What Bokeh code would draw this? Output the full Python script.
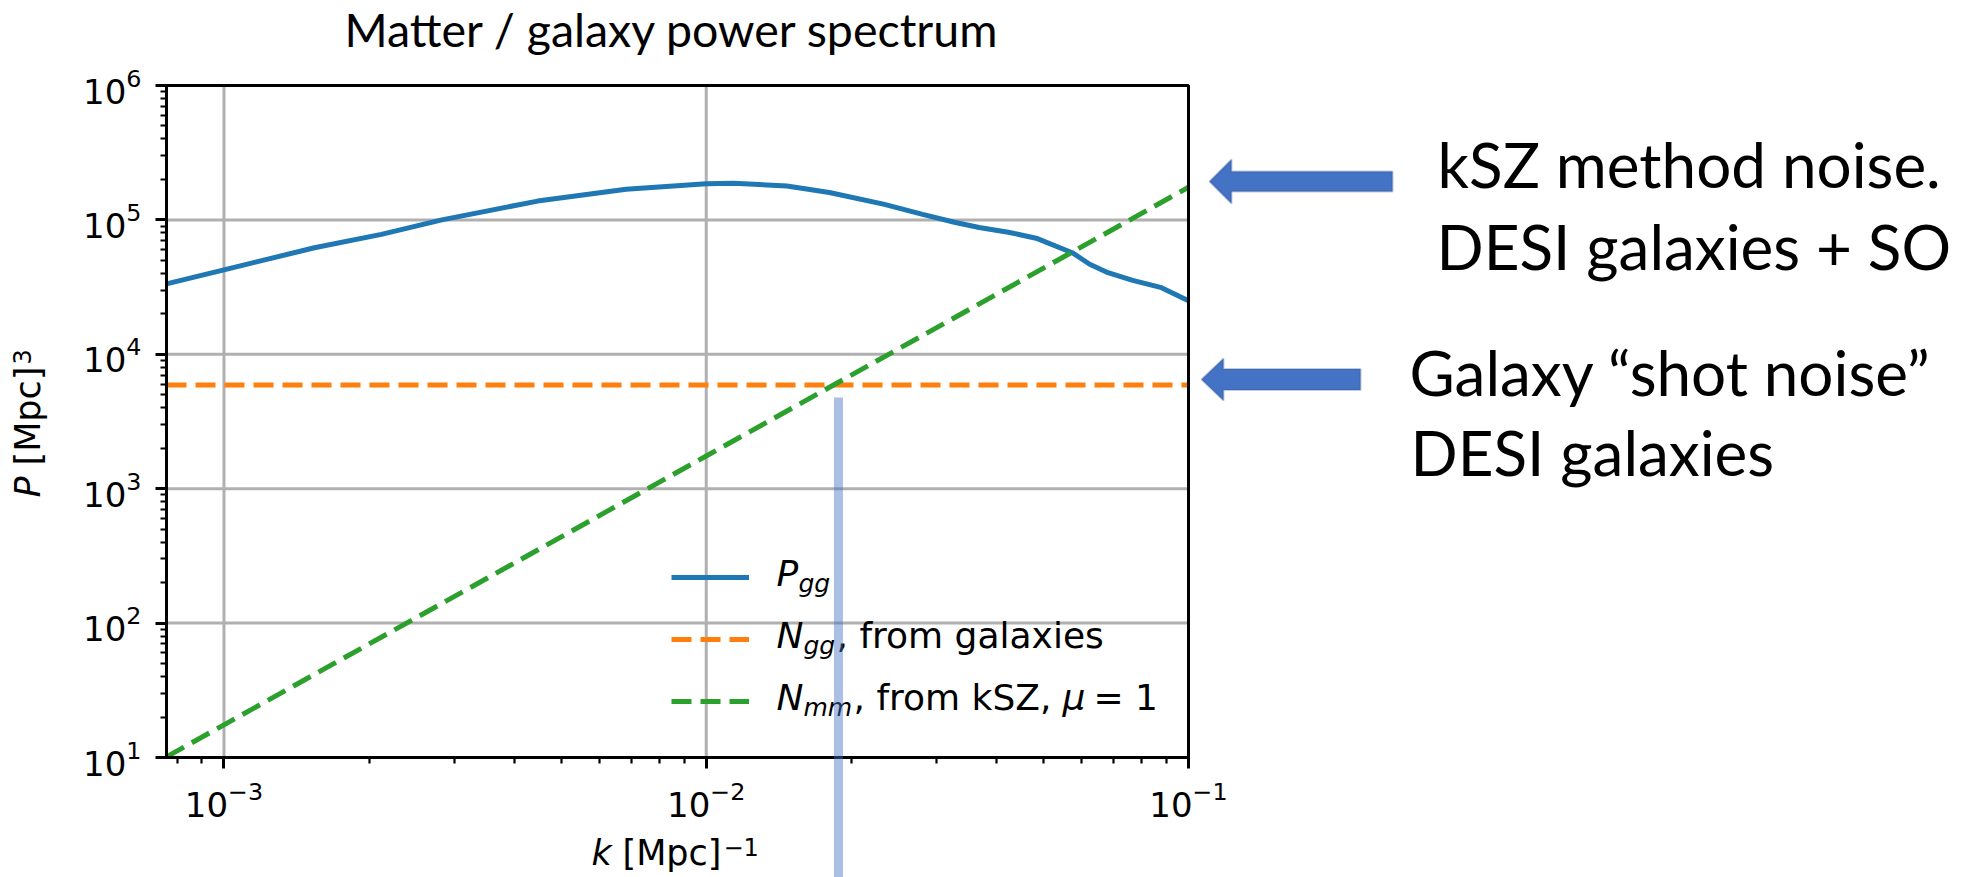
import math
from bokeh.plotting import figure
from bokeh.models import (Range1d, LogTicker, Label, PolyAnnotation, BoxAnnotation, Legend, LegendItem)
from bokeh.embed import file_html
from bokeh.resources import INLINE

# ---- data ----
k_gg = [7.6e-4, 1.0e-3, 1.54e-3, 2.12e-3, 2.83e-3, 4.47e-3, 6.82e-3, 1.0e-2, 1.14e-2, 1.47e-2,
        1.8e-2, 2.33e-2, 2.81e-2, 3.27e-2, 3.68e-2, 4.23e-2, 4.83e-2, 5.74e-2, 6.24e-2,
        6.81e-2, 7.66e-2, 8.79e-2, 1.0e-1]
P_gg = [3.34e4, 4.25e4, 6.2e4, 7.8e4, 1.0e5, 1.38e5, 1.69e5, 1.86e5, 1.87e5, 1.79e5,
        1.6e5, 1.31e5, 1.1e5, 9.6e4, 8.77e4, 8.1e4, 7.31e4, 5.7e4, 4.68e4,
        4.05e4, 3.55e4, 3.13e4, 2.5e4]
k_ngg = [7.6e-4, 1.0e-1]
N_gg = [5900, 5900]
k_nmm = [7.6e-4, 1.0e-3, 1.0e-2, 1.0e-1]
N_mm = [10.1, 17.5, 1750, 175000]
k_mark = 0.0188

X_RANGE = (7.6e-4, 0.1)
Y_RANGE = (10, 1e6)
x_ticks = [1e-3, 1e-2, 1e-1]
y_ticks = [1e1, 1e2, 1e3, 1e4, 1e5, 1e6]

# ---- layout: the frame covers the whole canvas; the plot box sits inside it ----
W, H = 1965, 877
PAGE = 0
BOX_L, BOX_T, BOX_R, BOX_B = 166, 85, 1188, 757   # reference pixels
BASE = 0.43   # text anchor correction (fraction of font size)

lx0, lx1 = math.log10(X_RANGE[0]), math.log10(X_RANGE[1])
ly0, ly1 = math.log10(Y_RANGE[0]), math.log10(Y_RANGE[1])
dec_x = (BOX_R - BOX_L) / (lx1 - lx0)
dec_y = (BOX_B - BOX_T) / (ly1 - ly0)
x_full = (10 ** (lx0 - (BOX_L - PAGE) / dec_x), 10 ** (lx1 + (PAGE + W - BOX_R) / dec_x))
y_full = (10 ** (ly0 - (PAGE + H - BOX_B) / dec_y), 10 ** (ly1 + (BOX_T - PAGE) / dec_y))

p = figure(x_axis_type="log", y_axis_type="log",
           x_range=Range1d(*x_full), y_range=Range1d(*y_full),
           width=W, height=H, min_border=0,
           output_backend="svg", toolbar_location=None,
           background_fill_color="white", border_fill_color="white")
p.outline_line_color = None
p.grid.visible = False

p.xaxis[0].fixed_location = Y_RANGE[0]
p.xaxis[0].bounds = X_RANGE
p.yaxis[0].fixed_location = X_RANGE[0]
p.yaxis[0].bounds = Y_RANGE

for ax in (p.xaxis[0], p.yaxis[0]):
    ax.ticker = LogTicker(num_minor_ticks=10)
    ax.axis_line_color = "black"
    ax.axis_line_width = 3
    ax.major_tick_line_color = "black"
    ax.minor_tick_line_color = "black"
    ax.major_tick_line_width = 3
    ax.minor_tick_line_width = 2.2
    ax.major_tick_out = 11
    ax.major_tick_in = 0
    ax.minor_tick_out = 6
    ax.minor_tick_in = 0
    ax.major_label_text_font = "DejaVu Sans"
    ax.major_label_text_font_size = "34px"
    ax.major_label_text_color = "black"
p.xaxis.major_label_standoff = 12
p.yaxis.major_label_standoff = 14

# grid lines at the major ticks, inside the plot box
p.segment(x0=x_ticks, y0=[Y_RANGE[0]] * len(x_ticks), x1=x_ticks, y1=[Y_RANGE[1]] * len(x_ticks),
          line_color="#b0b0b0", line_width=3)
p.segment(x0=[X_RANGE[0]] * len(y_ticks), y0=y_ticks, x1=[X_RANGE[1]] * len(y_ticks), y1=y_ticks,
          line_color="#b0b0b0", line_width=3)

r_pgg = p.line(k_gg, P_gg, line_color="#1f77b4", line_width=5)
r_ngg = p.line(k_ngg, N_gg, line_color="#ff7f0e", line_width=5, line_dash="20 9")
r_nmm = p.line(k_nmm, N_mm, line_color="#2ca02c", line_width=5, line_dash="20 9")

# plot box outline (spines)
p.add_layout(BoxAnnotation(left=X_RANGE[0], right=X_RANGE[1], bottom=Y_RANGE[0], top=Y_RANGE[1],
                           fill_alpha=0, line_color="black", line_width=3, line_alpha=1))


def sx(x):
    return x - PAGE


def sy(y):
    return PAGE + H - y


legend = Legend(items=[LegendItem(label=" ", renderers=[r_pgg]),
                       LegendItem(label=" ", renderers=[r_ngg]),
                       LegendItem(label=" ", renderers=[r_nmm])],
                location=(sx(671), sy(701 + 31)), orientation="vertical",
                glyph_width=78, glyph_height=62, label_height=62, label_width=1,
                spacing=0, padding=0, margin=0, label_standoff=0,
                border_line_alpha=0, background_fill_alpha=0,
                label_text_font_size="1px")
p.add_layout(legend, "center")


def lab(text, x, y, size=36, font="DejaVu Sans", style="normal", align="left", rotated=False):
    # (x, y): start of the text on its baseline, in reference pixels
    if rotated:
        ax_, ay_ = x - BASE * size, y
    else:
        ax_, ay_ = x, y - BASE * size
    p.add_layout(Label(x=sx(ax_), y=sy(ay_), x_units="screen", y_units="screen",
                       text=text, text_font=font, text_font_size=f"{size}px",
                       text_font_style=style, text_align=align, text_baseline="alphabetic",
                       angle=math.pi / 2 if rotated else 0.0, text_color="black"))


# legend texts
lab("P", 776, 588, style="italic")
lab("gg", 798, 594, size=25, style="italic")
lab("N", 776, 650, style="italic")
lab("gg", 803, 656, size=25, style="italic")
lab(", from galaxies", 836, 650)
lab("N", 776, 712, style="italic")
lab("mm", 803, 718, size=25, style="italic")
lab(", from kSZ,", 853, 712)
lab("\u03bc", 1062, 712, style="italic")
lab("= 1", 1093, 712)

# axis labels
lab("k", 591, 868, size=35, style="italic")
lab("[Mpc]", 622, 868, size=35)
lab("\u22121", 723, 857, size=24)
lab("P", 43, 497, size=35, style="italic", rotated=True)
lab("[Mpc]", 43, 465, size=35, rotated=True)
lab("3", 32, 364, size=24, rotated=True)

# title and side notes
lab("Matter / galaxy power spectrum", 672, 48, size=46.5, font="Lato", align="center")
lab("kSZ method noise.", 1437, 190, size=62, font="Lato")
lab("DESI galaxies + SO", 1436, 272, size=62, font="Lato")
lab("Galaxy \u201cshot noise\u201d", 1409, 398, size=62, font="Lato")
lab("DESI galaxies", 1410, 478, size=62, font="Lato")


def arrow(tip_x, tip_y, head_x, head_half, shaft_half, tail_x):
    xs = [tip_x, head_x, head_x, tail_x, tail_x, head_x, head_x]
    ys = [tip_y, tip_y - head_half, tip_y - shaft_half, tip_y - shaft_half,
          tip_y + shaft_half, tip_y + shaft_half, tip_y + head_half]
    p.add_layout(PolyAnnotation(xs=[sx(x) for x in xs], ys=[sy(y) for y in ys],
                                xs_units="screen", ys_units="screen",
                                fill_color="#4472C4", fill_alpha=1.0,
                                line_color="#2F528F", line_width=2))


arrow(1209, 181, 1231, 22, 10, 1392)
arrow(1201, 379, 1223, 21, 10.5, 1360)

# vertical marker at the crossing of the two noise curves
half = 10 ** (4.5 / dec_x)
p.add_layout(PolyAnnotation(xs=[k_mark / half, k_mark * half, k_mark * half, k_mark / half],
                            ys=[sy(397), sy(397), -20, -20],
                            xs_units="data", ys_units="screen",
                            fill_color="#4472C4", fill_alpha=0.45, line_alpha=0))

open("out.html", "w").write(file_html(p, INLINE))
